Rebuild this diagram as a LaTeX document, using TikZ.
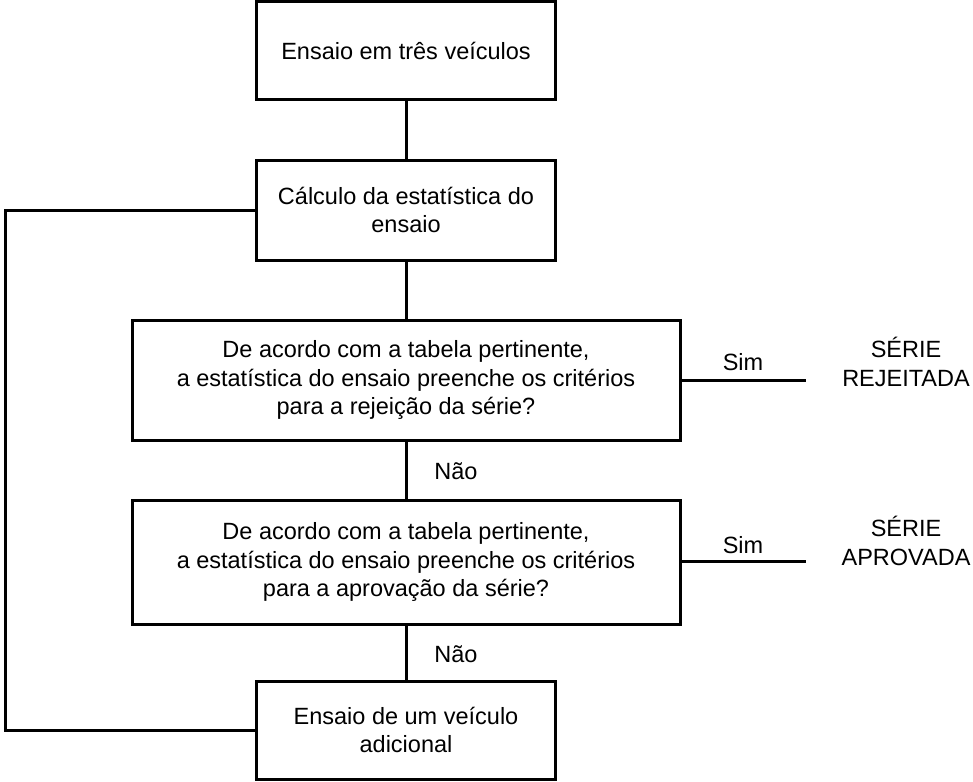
\documentclass[tikz,border=0pt]{standalone}
\usepackage{fontspec}
\setmainfont{Liberation Sans}
\begin{document}
\begin{tikzpicture}[x=1pt,y=-1pt,
  every node/.style={font=\fontsize{23.5}{28.5}\selectfont},
  box/.style={draw, line width=3pt, rectangle, inner sep=0pt, align=center},
  conn/.style={line width=3pt},
  lbl/.style={inner sep=0pt, align=center}]
\useasboundingbox (0,0) rectangle (973,781);
\node[box, minimum width=299pt, minimum height=98pt] (b1) at (406,51) {Ensaio em três veículos};
\node[box, minimum width=299pt, minimum height=100pt] (b2) at (406,210) {Cálculo da estatística do\\ensaio};
\node[box, minimum width=548pt, minimum height=120pt] (b3) at (406,380) {De acordo com a tabela pertinente,\\a estatística do ensaio preenche os critérios\\para a rejeição da série?};
\node[box, minimum width=548pt, minimum height=124pt] (b4) at (406,562) {De acordo com a tabela pertinente,\\a estatística do ensaio preenche os critérios\\para a aprovação da série?};
\node[box, minimum width=299pt, minimum height=98pt] (b5) at (406,730) {Ensaio de um veículo\\adicional};
\coordinate (lt) at (5,210);
\coordinate (lb) at (5,730);
\coordinate (s1) at (806,380);
\coordinate (s2) at (806,561);
\draw[conn] (b1.south) -- (b2.north);
\draw[conn] (b2.south) -- (b3.north);
\draw[conn] (b3.south) -- (b4.north);
\draw[conn] (b4.south) -- (b5.north);
\draw[conn, line join=miter] (b2.west) -- (lt) -- (lb) -- (b5.west);
\draw[conn] (b3.east |- s1) -- (s1);
\draw[conn] (b4.east |- s2) -- (s2);
\node[lbl] (sim1) at (743,362) {Sim};
\node[lbl] (sim2) at (743,545) {Sim};
\node[lbl] (nao1) at (456,471) {Não};
\node[lbl] (nao2) at (456,654) {Não};
\node[lbl] (rej) at (906,362) {SÉRIE\\REJEITADA};
\node[lbl] (apr) at (906,541) {SÉRIE\\APROVADA};
\end{tikzpicture}
\end{document}
